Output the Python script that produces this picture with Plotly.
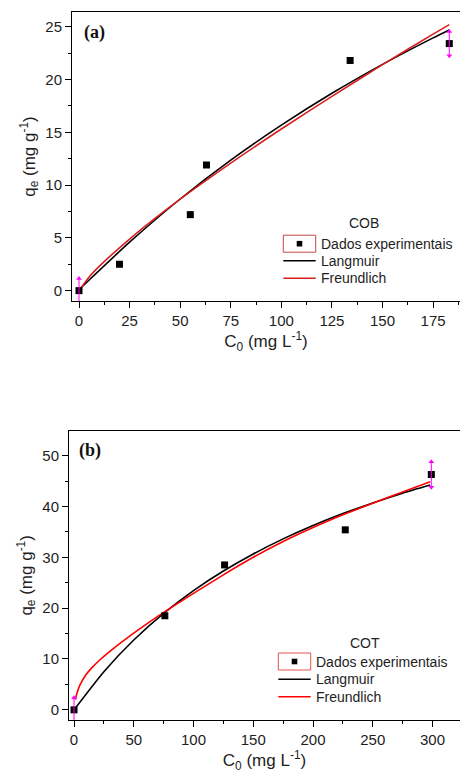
import plotly.graph_objects as go

# ---------------- Panel (a) : COB ----------------
cob_c0 = [0, 20, 55, 63, 134, 183]
cob_qe = [0.0, 2.5, 7.2, 11.9, 21.8, 23.4]
cob_err_c0 = [0, 183]
cob_err_qe = [0.0, 23.4]
cob_err = [1.15, 1.15]

cob_lang_c0 = [0, 25, 50, 75, 100, 125, 150, 175, 183]
cob_lang_qe = [0.1, 4.59, 8.68, 12.36, 15.67, 18.69, 21.43, 23.94, 24.69]
cob_freu_c0 = [0, 5, 10, 25, 50, 75, 100, 125, 150, 175, 183]
cob_freu_qe = [0.0, 1.30, 2.30, 4.89, 8.66, 12.08, 15.31, 18.40, 21.40, 24.30, 25.20]

# ---------------- Panel (b) : COT ----------------
cot_c0 = [0, 76, 126, 227, 299]
cot_qe = [0.0, 18.5, 28.5, 35.4, 46.3]
cot_err_c0 = [0, 299]
cot_err_qe = [0.0, 46.3]
cot_err = [2.4, 2.5]

cot_lang_c0 = [0, 25, 50, 75, 100, 125, 150, 175, 200, 225, 250, 275, 298]
cot_lang_qe = [0.0, 7.51, 13.73, 18.96, 23.44, 27.30, 30.66, 33.62, 36.25, 38.60, 40.70, 42.61, 44.20]
cot_freu_c0 = [1.2, 2.5, 5, 10, 15, 22, 30, 44, 60, 76, 100, 125, 150, 175, 200, 225, 250, 275, 298]
cot_freu_qe = [2.0, 3.3, 4.9, 6.9, 8.3, 9.9, 11.5, 14.05, 16.75, 19.3, 22.9, 26.55, 30.0, 33.1,
               35.85, 38.35, 40.65, 42.85, 44.85]

legend_names = ["Dados experimentais", "Langmuir", "Freundlich"]
panel_titles = ["COB", "COT"]
panel_labels = ["(a)", "(b)"]

FONT = "Arial, 'Liberation Sans', sans-serif"
TXT = "#1e1e1e"
MAGENTA = "#ff00ff"
RED_A = "#d81e1e"
RED_B = "#ff0000"

W, H = 460, 773

fig = go.Figure()


def add_panel(xa, ya, c0, qe, ec0, eqe, err, lc0, lqe, fc0, fqe, red):
    fig.add_trace(go.Scatter(
        x=lc0, y=lqe, mode="lines", name=legend_names[1], line_shape="spline",
        line=dict(color="black", width=1.6, smoothing=0.6), xaxis=xa, yaxis=ya, showlegend=False))
    fig.add_trace(go.Scatter(
        x=fc0, y=fqe, mode="lines", name=legend_names[2], line_shape="spline",
        line=dict(color=red, width=1.6, smoothing=0.6), xaxis=xa, yaxis=ya, showlegend=False))
    fig.add_trace(go.Scatter(
        x=c0, y=qe, mode="markers", name=legend_names[0],
        marker=dict(symbol="square", size=7, color="black"),
        xaxis=xa, yaxis=ya, showlegend=False))
    # magenta double-arrow error bars
    fig.add_trace(go.Scatter(
        x=ec0, y=eqe, mode="markers", marker=dict(size=0.1, color=MAGENTA),
        error_y=dict(type="data", array=err, color=MAGENTA, thickness=1, width=0),
        xaxis=xa, yaxis=ya, showlegend=False, hoverinfo="skip"))
    fig.add_trace(go.Scatter(
        x=ec0, y=[v + e for v, e in zip(eqe, err)], mode="markers",
        marker=dict(symbol="triangle-up", size=5, color=MAGENTA),
        xaxis=xa, yaxis=ya, showlegend=False, hoverinfo="skip"))
    fig.add_trace(go.Scatter(
        x=ec0, y=[v - e for v, e in zip(eqe, err)], mode="markers",
        marker=dict(symbol="triangle-down", size=5, color=MAGENTA),
        xaxis=xa, yaxis=ya, showlegend=False, hoverinfo="skip"))


add_panel("x", "y", cob_c0, cob_qe, cob_err_c0, cob_err_qe, cob_err,
          cob_lang_c0, cob_lang_qe, cob_freu_c0, cob_freu_qe, RED_A)
add_panel("x2", "y2", cot_c0, cot_qe, cot_err_c0, cot_err_qe, cot_err,
          cot_lang_c0, cot_lang_qe, cot_freu_c0, cot_freu_qe, RED_B)


def axis_common(dtick, minor_dtick, title):
    return dict(
        showline=True, linecolor="black", linewidth=1, mirror=True,
        ticks="outside", ticklen=6, tickwidth=1, tickcolor="black",
        dtick=dtick, tick0=0,
        minor=dict(ticks="outside", ticklen=3, tickwidth=1, tickcolor="black", dtick=minor_dtick),
        showgrid=False, zeroline=False,
        tickfont=dict(family=FONT, size=15, color=TXT),
        title=dict(text=title, font=dict(family=FONT, size=17, color=TXT), standoff=5),
        automargin=False,
    )


xt = "C<sub>0</sub> (mg L<sup>-1</sup>)"
yt = "q<sub>e</sub> (mg g<sup>-1</sup>)"

annotations = [
    dict(text="<b>" + panel_labels[0] + "</b>", xref="x domain", yref="y domain",
         x=0.027, y=0.93, xanchor="left", yanchor="middle", showarrow=False,
         font=dict(family="'Liberation Serif', 'Times New Roman', serif", size=18, color="#111111")),
    dict(text="<b>" + panel_labels[1] + "</b>", xref="x2 domain", yref="y2 domain",
         x=0.02, y=0.93, xanchor="left", yanchor="middle", showarrow=False,
         font=dict(family="'Liberation Serif', 'Times New Roman', serif", size=18, color="#111111")),
]
shapes = []


def px(x):
    return x / W


def py(y):
    return 1 - y / H


def add_legend(title, tx, ty, sym_x0, sym_x1, text_x, row_y, red, box_color):
    annotations.append(dict(text=title, xref="paper", yref="paper", x=px(tx), y=py(ty),
                            xanchor="center", yanchor="middle", showarrow=False,
                            font=dict(family=FONT, size=14, color=TXT)))
    for name, ry in zip(legend_names, row_y):
        annotations.append(dict(text=name, xref="paper", yref="paper", x=px(text_x), y=py(ry),
                                xanchor="left", yanchor="middle", showarrow=False,
                                font=dict(family=FONT, size=14, color=TXT)))
    # box around the marker sample
    shapes.append(dict(type="rect", xref="paper", yref="paper",
                       x0=px(sym_x0), x1=px(sym_x1), y0=py(row_y[0] + 8.5), y1=py(row_y[0] - 8.5),
                       line=dict(color=box_color, width=1)))
    cx = (sym_x0 + sym_x1) / 2
    shapes.append(dict(type="rect", xref="paper", yref="paper",
                       x0=px(cx - 2.8), x1=px(cx + 2.8), y0=py(row_y[0] + 2.8), y1=py(row_y[0] - 2.8),
                       fillcolor="black", line=dict(width=0)))
    shapes.append(dict(type="line", xref="paper", yref="paper",
                       x0=px(sym_x0), x1=px(sym_x1), y0=py(row_y[1]), y1=py(row_y[1]),
                       line=dict(color="black", width=1.6)))
    shapes.append(dict(type="line", xref="paper", yref="paper",
                       x0=px(sym_x0), x1=px(sym_x1), y0=py(row_y[2]), y1=py(row_y[2]),
                       line=dict(color=red, width=1.6)))


add_legend(panel_titles[0], 364, 223, 283.3, 315.7, 319, [243.7, 260.7, 278.3], RED_A, "#c04848")
add_legend(panel_titles[1], 365, 643, 278.3, 310.7, 314, [661.5, 679.3, 696.7], RED_B, "#e05050")

layout = dict(
    width=W, height=H,
    margin=dict(l=0, r=0, t=0, b=0),
    paper_bgcolor="white", plot_bgcolor="white",
    font=dict(family=FONT, color=TXT),
    showlegend=False,
    xaxis=dict(domain=[72 / W, 1], range=[-3.46, 188.3], anchor="y", **axis_common(25, 12.5, xt)),
    yaxis=dict(domain=[1 - 301 / H, 1 - 12 / H], range=[-0.98, 26.39], anchor="x", **axis_common(5, 2.5, yt)),
    xaxis2=dict(domain=[69 / W, 1], range=[-4.2, 323], anchor="y2", **axis_common(50, 25, xt)),
    yaxis2=dict(domain=[1 - 720 / H, 1 - 430.7 / H], range=[-2.0, 54.9], anchor="x2", **axis_common(10, 5, yt)),
    annotations=annotations,
    shapes=shapes,
)
fig.update_layout(**layout)
fig.write_html(
    "out.html",
    config={"displayModeBar": False},
    post_script="document.body.style.margin='0';document.body.style.padding='0';document.body.style.overflow='hidden';",
)
